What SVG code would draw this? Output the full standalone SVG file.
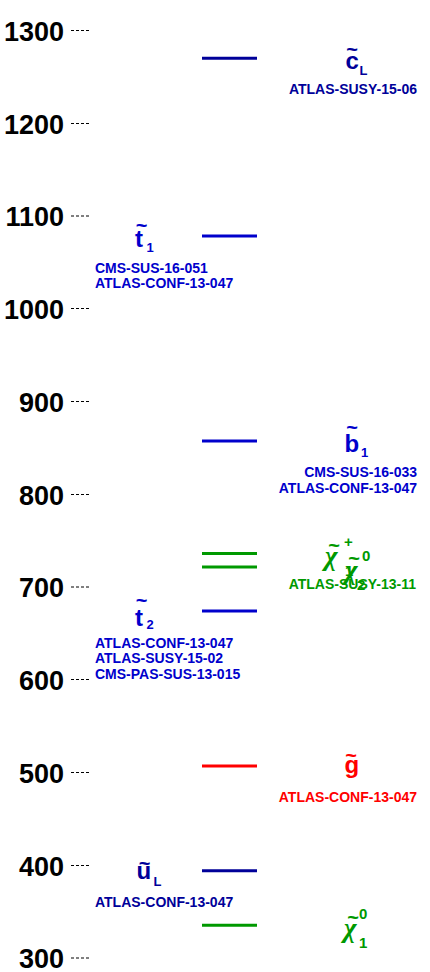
<svg xmlns="http://www.w3.org/2000/svg" width="430" height="972" viewBox="0 0 430 972">
<style>
text{font-family:"Liberation Sans",Arial,sans-serif;font-weight:bold}
.ax{font-size:27px;fill:#000;text-anchor:end}
.tk{stroke:#000;stroke-width:1;stroke-dasharray:3 2}
.lv{stroke-width:3}
.p{font-size:24px}
.chi{font-family:"Liberation Serif","Times New Roman",serif;font-style:italic;font-weight:bold;font-size:27px}
.tl{font-size:20px;text-anchor:middle}
.s{font-size:13px}
.cs{font-size:15px}
.r{font-size:14px}
.e{text-anchor:end}
.navy{fill:#000099}.navyS{stroke:#000099}
.blue{fill:#0000CC}.blueS{stroke:#0000CC}
.green{fill:#009900}.greenS{stroke:#009900}
.red{fill:#FF0000}.redS{stroke:#FF0000}
</style>
<rect width="430" height="972" fill="#fff"/>
<g id="axis">
<text class="ax" x="64" y="41">1300</text><line class="tk" x1="71" y1="30.5" x2="90" y2="30.5"/>
<text class="ax" x="64" y="133.5">1200</text><line class="tk" x1="71" y1="123.5" x2="90" y2="123.5"/>
<text class="ax" x="64" y="226">1100</text><line class="tk" x1="71" y1="216" x2="90" y2="216"/>
<text class="ax" x="64" y="319">1000</text><line class="tk" x1="71" y1="308.5" x2="90" y2="308.5"/>
<text class="ax" x="64" y="411.5">900</text><line class="tk" x1="71" y1="401.5" x2="90" y2="401.5"/>
<text class="ax" x="64" y="504.5">800</text><line class="tk" x1="71" y1="494.5" x2="90" y2="494.5"/>
<text class="ax" x="64" y="597">700</text><line class="tk" x1="71" y1="587" x2="90" y2="587"/>
<text class="ax" x="64" y="690">600</text><line class="tk" x1="71" y1="679.5" x2="90" y2="679.5"/>
<text class="ax" x="64" y="782.5">500</text><line class="tk" x1="71" y1="772.5" x2="90" y2="772.5"/>
<text class="ax" x="64" y="875.5">400</text><line class="tk" x1="71" y1="865.5" x2="90" y2="865.5"/>
<text class="ax" x="64" y="967.5">300</text><line class="tk" x1="71" y1="958" x2="90" y2="958"/>
</g>
<g id="connectors"></g>
<g id="cL">
<line class="lv navyS" x1="202" y1="58.3" x2="257" y2="58.3"/>
<text class="tl navy" x="352" y="55.5">~</text>
<text class="p navy" x="345.5" y="68.5">c</text>
<text class="s navy" x="359.5" y="74.5">L</text>
<text class="r navy e" x="417" y="94">ATLAS-SUSY-15-06</text>
</g>
<g id="t1">
<line class="lv blueS" x1="202" y1="236" x2="257" y2="236"/>
<text class="tl blue" x="141.5" y="231.5">~</text>
<text class="p blue" x="135" y="246.5">t</text>
<text class="s blue" x="146.5" y="252">1</text>
<text class="r blue" x="95" y="272.5">CMS-SUS-16-051</text>
<text class="r blue" x="95" y="288">ATLAS-CONF-13-047</text>
</g>
<g id="b1">
<line class="lv blueS" x1="202" y1="441" x2="257" y2="441"/>
<text class="tl blue" x="352" y="433.5">~</text>
<text class="p blue" x="344.5" y="452">b</text>
<text class="s blue" x="361" y="457">1</text>
<text class="r blue e" x="417" y="477">CMS-SUS-16-033</text>
<text class="r blue e" x="417" y="493">ATLAS-CONF-13-047</text>
</g>
<g id="chi1p">
<line class="lv greenS" x1="202" y1="553.5" x2="257" y2="553.5"/>
<text class="tl green" x="334" y="551.5">~</text>
<text class="chi green" x="325" y="565">χ</text>
<text class="cs green" x="344" y="547">+</text>
<text class="cs green" x="345" y="576">1</text>
</g>
<g id="chi20">
<line class="lv greenS" x1="202" y1="567" x2="257" y2="567"/>
<text class="tl green" x="354" y="565">~</text>
<text class="chi green" x="345" y="578.7">χ</text>
<text class="cs green" x="362" y="560.5">0</text>
<text class="cs green" x="357" y="589.5">2</text>
<text class="r green e" x="416" y="589">ATLAS-SUSY-13-11</text>
</g>
<g id="t2">
<line class="lv blueS" x1="202" y1="611" x2="257" y2="611"/>
<text class="tl blue" x="141.5" y="606.5">~</text>
<text class="p blue" x="135" y="625.5">t</text>
<text class="s blue" x="146.5" y="629">2</text>
<text class="r blue" x="95" y="648">ATLAS-CONF-13-047</text>
<text class="r blue" x="95" y="663">ATLAS-SUSY-15-02</text>
<text class="r blue" x="95" y="678.5">CMS-PAS-SUS-13-015</text>
</g>
<g id="gluino">
<line class="lv redS" x1="202" y1="766" x2="257" y2="766"/>
<text class="tl red" x="351" y="762">~</text>
<text class="p red" x="344.5" y="773">g</text>
<text class="r red e" x="417" y="802">ATLAS-CONF-13-047</text>
</g>
<g id="uL">
<line class="lv navyS" x1="202" y1="870.7" x2="257" y2="870.7"/>
<text class="tl navy" x="144.5" y="869.5">~</text>
<text class="p navy" x="136.5" y="879">u</text>
<text class="s navy" x="153.5" y="886">L</text>
<text class="r navy" x="95" y="907">ATLAS-CONF-13-047</text>
</g>
<g id="chi10">
<line class="lv greenS" x1="202" y1="925.3" x2="257" y2="925.3"/>
<text class="tl green" x="353" y="923.5">~</text>
<text class="chi green" x="344" y="937">χ</text>
<text class="cs green" x="359" y="919">0</text>
<text class="cs green" x="359" y="948">1</text>
</g>
</svg>
